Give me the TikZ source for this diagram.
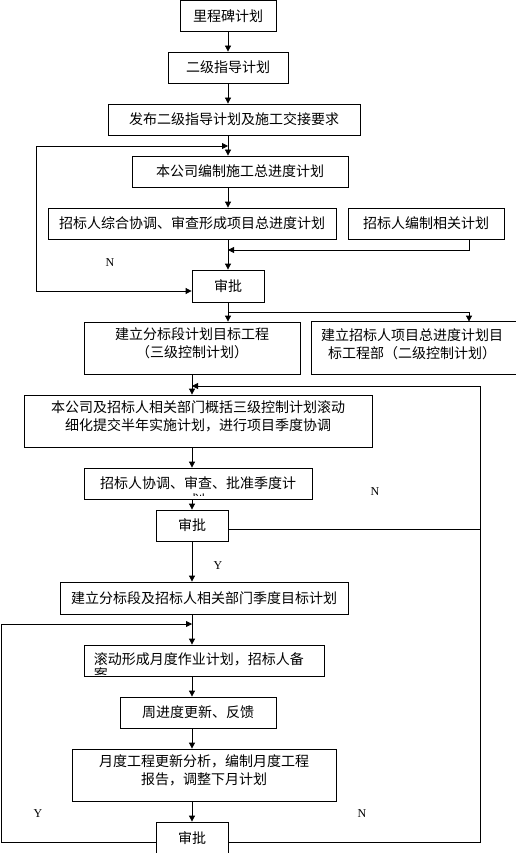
\documentclass[tikz,border=0pt]{standalone}
\usepackage{fontspec}
\setmainfont{Noto Sans CJK SC}
\newfontfamily\ynfont{Liberation Serif}
\usepackage{tikz}
\usetikzlibrary{positioning,arrows.meta,calc}
\tikzset{
  blk/.style ={draw=black, line width=0.8pt, align=center,
               font=\fontsize{14}{18}\selectfont, inner sep=0pt},
  blk2/.style={blk, text depth=10pt},
  txt/.style ={font=\fontsize{14}{18}\selectfont, inner sep=0pt},
  ar/.style  ={-{Triangle[length=6pt,width=6pt]}, line width=0.8pt},
  biar/.style={{Triangle[length=6pt,width=6pt]}-{Triangle[length=6pt,width=6pt]}, line width=0.8pt},
  ln/.style  ={line width=0.8pt},
  lbl/.style ={font=\ynfont\fontsize{12}{14}\selectfont, inner sep=0pt},
}

\begin{document}
\begin{tikzpicture}[x=1pt,y=-1pt]
\useasboundingbox (0,0) rectangle (516,853);
\clip (0,0) rectangle (516,853);
% fixed turning points of the loops
\coordinate (t1) at (228,146);
\coordinate (m1) at (228,250);
\coordinate (rcol) at (469,0);
\coordinate (rtop) at (480,386);
\coordinate (ytop) at (1,624);
\coordinate (ybot) at (0,842);

\node[blk,minimum width=96pt,minimum height=31pt] (ms) at (228,16) {里程碑计划};
\node[blk,minimum width=120pt,minimum height=31pt] (l2) at (228,67.5) {二级指导计划};
\node[blk,minimum width=252pt,minimum height=31pt] (pub) at (234,119.5) {发布二级指导计划及施工交接要求};
\node[blk,minimum width=216pt,minimum height=31pt] (own) at (240,171.5) {本公司编制施工总进度计划};
\node[blk,minimum width=288pt,minimum height=31pt] (rev) at (192,223.5) {招标人综合协调、审查形成项目总进度计划};
\node[blk,minimum width=156pt,minimum height=31pt] (rel) at (426,223.5) {招标人编制相关计划};
\node[blk,minimum width=72pt,minimum height=32pt] (ap1) at (228,286) {审批};
\node[blk2,minimum width=216pt,minimum height=52pt] (l3) at (192,348) {建立分标段计划目标工程\\（三级控制计划）};
% box runs off the right edge: no right side
\node[blk,draw=none,minimum width=232pt,minimum height=52pt] (tg) at (428,348) {};
\draw[ln] (tg.north east) -- (tg.north west) -- (tg.south west) -- (tg.south east);
\node[txt,align=center] (tgt) at (412,344) {建立招标人项目总进度计划目\\标工程部（二级控制计划）};
\node[blk2,minimum width=348pt,minimum height=52pt] (sum) at (198,421) {本公司及招标人相关部门概括三级控制计划滚动\\细化提交半年实施计划，进行项目季度协调};
\node[blk,minimum width=228pt,minimum height=31pt] (qa) at (198,483.5) {招标人协调、审查、批准季度计};
\begin{scope}
  \clip (qa.north west) rectangle ([yshift=4pt]qa.south east);
  \node[txt] (qa2) at ([yshift=-17pt]qa.center) {划};
\end{scope}
\node[blk,minimum width=72pt,minimum height=31pt] (ap2) at (192,525.5) {审批};
\node[blk,minimum width=288pt,minimum height=32pt] (qt) at (204,598) {建立分标段及招标人相关部门季度目标计划};
\node[blk,minimum width=240pt,minimum height=31pt] (mo) at (204,660.5) {};
\node[txt,anchor=west] (mo1) at ([xshift=10pt,yshift=1.5pt]mo.west) {滚动形成月度作业计划，招标人备};
\begin{scope}
  \clip (mo.north west) rectangle ([yshift=2pt]mo.south east);
  \node[txt,anchor=west] (mo2) at ([xshift=10pt,yshift=-14pt]mo.west) {案};
\end{scope}
\node[blk,minimum width=156pt,minimum height=31pt] (wk) at (198,712.5) {周进度更新、反馈};
\node[blk2,minimum width=264pt,minimum height=52pt] (rp) at (204,775) {月度工程更新分析，编制月度工程\\报告，调整下月计划};
\node[blk,minimum width=72pt,minimum height=32pt] (ap3) at (192,838) {审批};

\node[lbl] (n1) at (110,263) {N};
\node[lbl] (n2) at (375,492) {N};
\node[lbl] (y2) at (218,566) {Y};
\node[lbl] (y3) at (38,814) {Y};
\node[lbl] (n3) at (362,814) {N};

\draw[ar] (ms) -- (l2);
\draw[ar] (l2.south) -- (l2.south |- pub.north);
\draw[ar] (pub.south -| l2) -- (own.north -| l2);
\draw[ar] (own.south -| l2) -- (rev.north -| l2);
\draw[ar] (rev.south -| l2) -- (ap1.north);
\draw[ar] (rel.south -| rcol) |- (m1);
\draw[biar] (t1) -- ++(-192,0) |- ([yshift=-5pt]ap1.west);
\draw[ar] (ap1.south) -- (ap1.south |- l3.north);
\draw[ar] (ap1.south) -- ++(0,10) -| (tg.north -| rcol);
\draw[ar] (l3.south) -- (l3.south |- sum.north);
\draw[ar] (sum.south -| l3) -- (qa.north -| l3);
\draw[ar] (qa.south -| ap2) -- (ap2.north);
\draw[ar] (ap2.south) -- (ap2.south |- qt.north);
\draw[ln] ([yshift=-4pt]ap2.east) -- ([yshift=-4pt]ap2.east -| rtop);
\draw[ar] (qt.south -| l3) -- (mo.north -| l3);
\draw[ar] (mo.south -| l3) -- (wk.north -| l3);
\draw[ar] (wk.south -| l3) -- (rp.north -| l3);
\draw[ar] (rp.south -| l3) -- (ap3.north);
\draw[ar] (ap3.west |- ybot) -| (ytop) -- (ytop -| l3);
\draw[ar] (ap3.east |- ybot) -| (rtop) -- (rtop -| l3);
\end{tikzpicture}
\end{document}
